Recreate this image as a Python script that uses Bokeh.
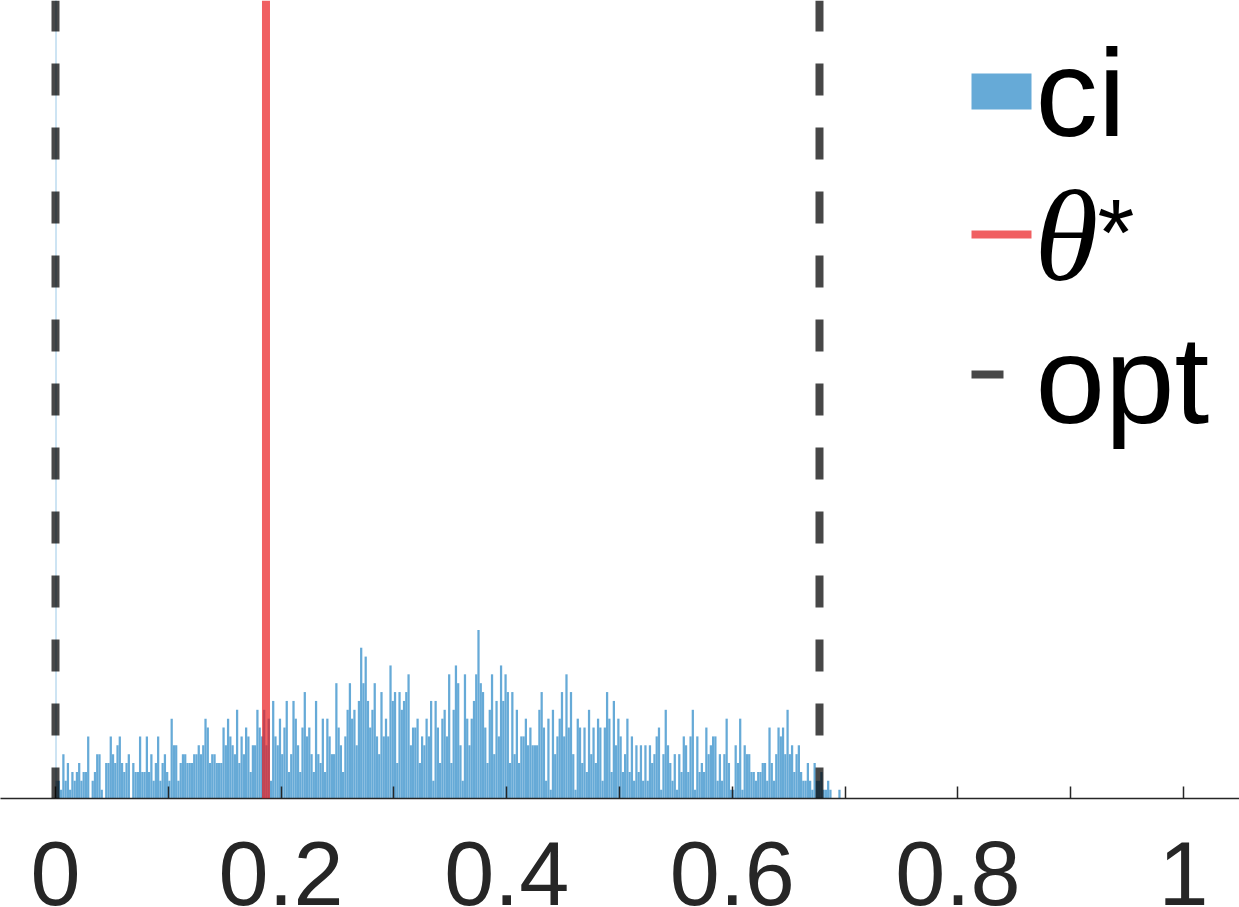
import numpy as np
from bokeh.plotting import figure
from bokeh.models import Range1d, FixedTicker, Span, Label, BoxAnnotation
from bokeh.embed import file_html
from bokeh.resources import INLINE

# ---------------- data ----------------
bin_width = 0.002
ci_counts = [
    2, 2, 1, 5, 2, 4, 1, 3, 2, 3, 4, 2, 3, 3, 7, 0, 2, 3, 5, 5, 1, 0, 4, 4, 7,
    5, 4, 6, 7, 4, 3, 4, 5, 0, 4, 3, 3, 7, 3, 3, 7, 3, 5, 2, 4, 7, 2, 4, 5, 3,
    2, 9, 6, 6, 2, 4, 5, 5, 4, 4, 4, 5, 5, 6, 5, 6, 9, 8, 4, 5, 5, 4, 4, 4, 8,
    6, 9, 7, 6, 5, 10, 4, 7, 5, 8, 7, 3, 6, 6, 10, 8, 7, 10, 6, 9, 2, 11, 7, 6, 9,
    5, 8, 11, 3, 5, 11, 9, 6, 3, 8, 12, 7, 8, 5, 3, 11, 5, 4, 9, 3, 9, 7, 5, 5, 13,
    8, 6, 3, 7, 10, 13, 9, 10, 6, 11, 17, 13, 16, 11, 8, 10, 13, 7, 5, 12, 7, 9, 7, 15, 11,
    12, 4, 12, 10, 11, 12, 14, 6, 8, 8, 9, 4, 7, 6, 9, 7, 11, 2, 11, 8, 4, 9, 10, 7, 14,
    4, 10, 15, 13, 6, 2, 14, 9, 6, 9, 11, 14, 19, 13, 12, 8, 4, 10, 14, 5, 11, 7, 15, 11, 14,
    12, 4, 12, 5, 10, 4, 7, 7, 9, 6, 8, 6, 6, 6, 10, 12, 8, 2, 9, 1, 10, 5, 7, 9, 12,
    7, 14, 8, 12, 5, 1, 9, 8, 4, 8, 3, 10, 5, 8, 4, 9, 8, 2, 8, 12, 9, 3, 11, 6, 9,
    7, 3, 5, 9, 3, 7, 2, 6, 3, 6, 2, 6, 2, 6, 4, 5, 7, 8, 1, 5, 10, 6, 4, 2, 5,
    1, 5, 3, 7, 6, 3, 7, 10, 1, 7, 3, 4, 3, 8, 5, 6, 7, 7, 2, 5, 2, 5, 9, 4, 1,
    1, 6, 4, 9, 1, 6, 5, 5, 3, 3, 2, 3, 3, 4, 4, 2, 8, 4, 2, 5, 8, 7, 8, 5, 10,
    5, 6, 3, 5, 6, 3, 2, 2, 4, 2, 1, 4, 2, 2, 3, 1, 1, 2, 1, 0, 0, 0, 1,
]
ci_zero_width = 0.0009
ci_zero_count = 100          # tall spike at exactly 0 (runs off the top)
theta_star = 0.1866
opt_bounds = [0.0, 0.6773]
major_ticks = [0.0, 0.2, 0.4, 0.6, 0.8, 1.0]
major_labels = ["0", "0.2", "0.4", "0.6", "0.8", "1"]
minor_ticks = [0.1, 0.3, 0.5, 0.7, 0.9]
legend_labels = ["ci", "\u03b8", "*", "opt"]

# ---------------- layout constants ----------------
W, H = 1239, 907
PX_PER_X = 1128.0          # pixels per x unit
X0_PAGE = 55.0             # page x of value 0
PX_PER_COUNT = 8.87
AXIS_PAGE_Y = 798.0        # page y of the x axis line
x_start = (0 - X0_PAGE) / PX_PER_X
x_end = (W - X0_PAGE) / PX_PER_X
y_end = AXIS_PAGE_Y / PX_PER_COUNT


def px(page_x):
    return (page_x - X0_PAGE) / PX_PER_X


def py(page_y):
    return (AXIS_PAGE_Y - page_y) / PX_PER_COUNT


BLUE = "#66AAD7"
INK = "#262626"
RED = "#E9171A"

p = figure(width=W, height=H, output_backend="svg", toolbar_location=None,
           x_range=Range1d(x_start, x_end), y_range=Range1d(0, y_end),
           min_border=0, min_border_left=0, min_border_right=0,
           min_border_top=0, min_border_bottom=int(H - AXIS_PAGE_Y))
p.outline_line_color = None
p.grid.visible = False
p.yaxis.visible = False
p.background_fill_color = "white"
p.border_fill_color = "white"

counts = np.array(ci_counts, dtype=float)
lefts = np.arange(len(counts)) * bin_width
p.quad(left=lefts, right=lefts + bin_width, bottom=0, top=counts,
       fill_color=BLUE, line_color=None)
p.quad(left=[0.0], right=[ci_zero_width], bottom=0, top=[ci_zero_count],
       fill_color="#9ECAE8", fill_alpha=1.0, line_color=None)

# reference lines
p.add_layout(Span(location=theta_star, dimension="height", line_color=RED,
                  line_alpha=0.69, line_width=8))
for b in opt_bounds:
    p.add_layout(Span(location=b, dimension="height", line_color="black",
                      line_alpha=0.72, line_width=8, line_dash="32 32",
                      line_dash_offset=1))

# axis styling
ax = p.xaxis[0]
ax.ticker = FixedTicker(ticks=major_ticks, minor_ticks=minor_ticks)
ax.major_label_overrides = {t: l for t, l in zip(major_ticks, major_labels)}
ax.axis_line_color = INK
ax.axis_line_width = 1.5
ax.major_tick_line_color = INK
ax.minor_tick_line_color = INK
ax.major_tick_line_width = 1.5
ax.minor_tick_line_width = 1.5
ax.major_tick_in = 12
ax.major_tick_out = 0
ax.minor_tick_in = 12
ax.minor_tick_out = 0
ax.major_label_text_font = "Liberation Sans"
ax.major_label_text_font_size = "90px"
ax.major_label_text_color = INK
ax.major_label_standoff = 43

# legend (drawn by hand)
p.add_layout(BoxAnnotation(left=px(971), right=px(1031), top=py(73), bottom=py(109),
                           fill_color=BLUE, fill_alpha=1.0, line_color=None))
p.add_layout(BoxAnnotation(left=px(971), right=px(1031), top=py(230), bottom=py(238),
                           fill_color=RED, fill_alpha=0.69, line_color=None))
p.add_layout(BoxAnnotation(left=px(971), right=px(1003), top=py(370), bottom=py(378),
                           fill_color="black", fill_alpha=0.72, line_color=None))

common = dict(text_color="black", text_baseline="middle")
# y given as (baseline - 0.35 em) since the label is centred vertically
p.add_layout(Label(x=px(1035), y=py(135 - 43), text=legend_labels[0],
                   text_font="Liberation Sans", text_font_size="125px", **common))
p.add_layout(Label(x=px(1034), y=py(279 - 44), text=legend_labels[1],
                   text_font="Liberation Serif", text_font_style="italic",
                   text_font_size="130px", **common))
p.add_layout(Label(x=px(1097), y=py(266 - 35), text=legend_labels[2],
                   text_font="Liberation Sans", text_font_size="95px", **common))
p.add_layout(Label(x=px(1035), y=py(422 - 43), text=legend_labels[3],
                   text_font="Liberation Sans", text_font_size="125px", **common))

open("out.html", "w").write(file_html(p, INLINE))
